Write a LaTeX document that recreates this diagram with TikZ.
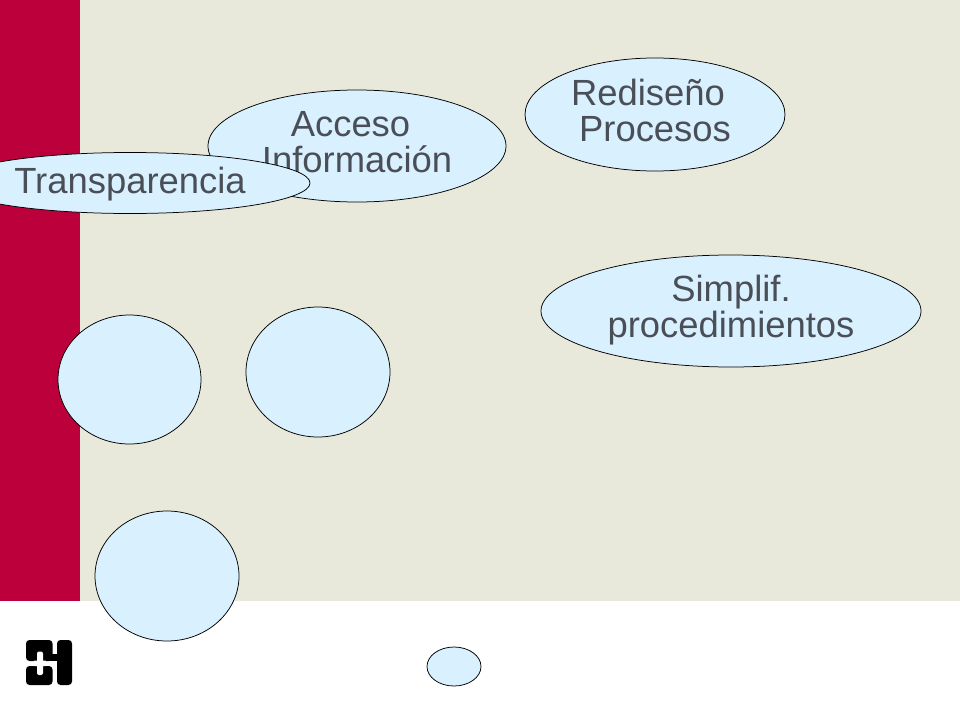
\documentclass[tikz,border=0pt]{standalone}
\usepackage{fontspec}
\setmainfont{Liberation Sans}
\usetikzlibrary{shapes.geometric}
\definecolor{beige}{HTML}{E9E9DB}
\definecolor{crimson}{HTML}{BC003C}
\definecolor{bubble}{HTML}{D9F0FF}
\definecolor{ink}{HTML}{4A4F57}
\tikzset{
  x=1pt,y=-1pt,
  bub/.style={ellipse,draw=black,line width=0.75pt,fill=bubble,inner sep=0pt,outer sep=0pt},
  lbl/.style={text=ink,font=\fontsize{36.4}{36}\selectfont,anchor=base,inner sep=0pt},
}
\begin{document}
\begin{tikzpicture}
\useasboundingbox (0,0) rectangle (960,720);
\fill[white] (0,0) rectangle (960,720);
\fill[beige] (0,0) rectangle (960,601);
\fill[crimson] (0,0) rectangle (80,601);
\node[bub,minimum width=260pt,minimum height=113pt] (red) at (655,114.5) {};
\node[lbl] (redA) at (648,105) {Rediseño};
\node[lbl] (redB) at (655,141) {Procesos};
\node[bub,minimum width=298pt,minimum height=112pt] (acc) at (357,146) {};
\node[lbl] (accA) at (350.5,136) {Acceso};
\node[lbl] (accB) at (357,172) {Información};
\node[bub,minimum width=360pt,minimum height=61pt] (tra) at (130,183) {};
\node[lbl] (traA) at (130,193) {Transparencia};
\node[bub,minimum width=380pt,minimum height=112pt] (sim) at (731,311) {};
\node[lbl] (simA) at (731,301) {Simplif.};
\node[lbl] (simB) at (731,337) {procedimientos};
\node[bub,minimum width=143pt,minimum height=129pt] (c1) at (129.5,379.5) {};
\node[bub,minimum width=144pt,minimum height=130pt] (c2) at (318,372) {};
\node[bub,minimum width=144pt,minimum height=130pt] (c3) at (167,576) {};
\node[bub,minimum width=54pt,minimum height=39pt] (c4) at (454,666.5) {};
% logo
\fill[black,rounded corners=3.5pt] (26,640) rectangle (52.5,661);
\fill[black,rounded corners=3.5pt] (57,640) rectangle (72,685);
\fill[black] (50,654) rectangle (59,660.7);
\fill[black,rounded corners=3.5pt] (26,666) rectangle (52.5,685);
\fill[white,rounded corners=2pt] (37,651.5) rectangle (43,675);
\fill[white,rounded corners=1.5pt] (33,660.7) rectangle (47,666);
\end{tikzpicture}
\end{document}
